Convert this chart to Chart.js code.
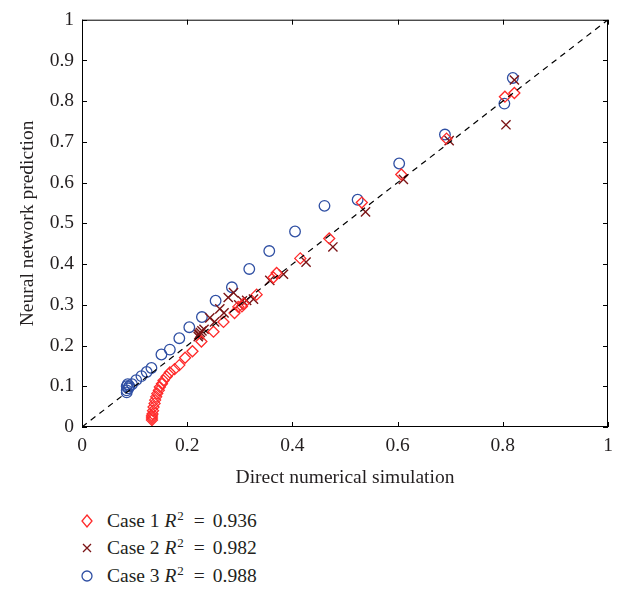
<!DOCTYPE html>
<html>
<head>
<meta charset="utf-8">
<script src="https://cdn.jsdelivr.net/npm/chart.js@4/dist/chart.umd.min.js"></script>
<style>
  html, body { margin: 0; padding: 0; background: #fff; }
  #wrap { position: relative; width: 630px; height: 591px; }
  #c { position: absolute; left: 0; top: 0; }
  #legend { position: absolute; left: 78px; top: 507px; font-family: "Liberation Serif", "DejaVu Serif", serif; font-size: 19.5px; color: #231f20; }
  .row { height: 27.5px; display: flex; align-items: center; }
  .row svg { width: 18px; height: 18px; margin-right: 11px; }
  sup { font-size: 13px; vertical-align: 7px; line-height: 0; margin-left: 1px; }
  .eq { margin: 0 8px 0 10px; }
</style>
</head>
<body>
<div id="wrap">
  <canvas id="c" width="630" height="500"></canvas>
  <div id="legend">
    <div class="row"><svg viewBox="0 0 18 18"><path d="M9 3 L14 9 L9 15 L4 9 Z" fill="none" stroke="#ff2a2a" stroke-width="1.3"/></svg><span>Case 1 <i>R</i><sup>2</sup><span class="eq">=</span>0.936</span></div>
    <div class="row"><svg viewBox="0 0 18 18"><path d="M5 5 L13 13 M13 5 L5 13" stroke="#7b1416" stroke-width="1.3"/></svg><span>Case 2 <i>R</i><sup>2</sup><span class="eq">=</span>0.982</span></div>
    <div class="row"><svg viewBox="0 0 18 18"><circle cx="9" cy="9" r="5" fill="none" stroke="#2f4fa3" stroke-width="1.3"/></svg><span>Case 3 <i>R</i><sup>2</sup><span class="eq">=</span>0.988</span></div>
  </div>
</div>
<script>
// ---- data ----
const xTickValues = [0, 0.2, 0.4, 0.6, 0.8, 1];
const xTickLabels = ["0", "0.2", "0.4", "0.6", "0.8", "1"];
const yTickValues = [0, 0.1, 0.2, 0.3, 0.4, 0.5, 0.6, 0.7, 0.8, 0.9, 1];
const yTickLabels = ["0", "0.1", "0.2", "0.3", "0.4", "0.5", "0.6", "0.7", "0.8", "0.9", "1"];
const xAxisTitle = "Direct numerical simulation";
const yAxisTitle = "Neural network prediction";

const case1X = [0.133,0.133,0.133,0.134,0.135,0.136,0.138,0.139,0.141,0.143,0.146,0.148,0.152,0.155,0.161,0.167,0.176,0.185,0.196,0.21,0.227,0.25,0.269,0.29,0.297,0.304,0.307,0.332,0.364,0.37,0.415,0.47,0.532,0.607,0.693,0.804,0.822];
const case1Y = [0.017,0.022,0.027,0.032,0.04,0.049,0.058,0.066,0.074,0.082,0.09,0.098,0.106,0.114,0.124,0.134,0.142,0.152,0.17,0.186,0.21,0.234,0.258,0.28,0.295,0.296,0.303,0.325,0.367,0.378,0.414,0.463,0.551,0.62,0.708,0.811,0.82];

const case2X = [0.221,0.222,0.223,0.225,0.228,0.232,0.243,0.252,0.262,0.27,0.278,0.288,0.298,0.305,0.313,0.326,0.357,0.383,0.426,0.477,0.539,0.611,0.698,0.806,0.822];
const case2Y = [0.222,0.226,0.228,0.232,0.236,0.24,0.268,0.258,0.29,0.28,0.318,0.33,0.3,0.31,0.311,0.314,0.36,0.375,0.405,0.442,0.528,0.608,0.703,0.742,0.852];

const case3X = [0.085,0.085,0.088,0.085,0.087,0.09,0.095,0.103,0.113,0.123,0.132,0.151,0.167,0.185,0.204,0.228,0.254,0.285,0.318,0.356,0.405,0.461,0.524,0.603,0.69,0.803,0.819];
const case3Y = [0.085,0.09,0.095,0.1,0.105,0.1,0.105,0.115,0.125,0.135,0.145,0.178,0.19,0.218,0.245,0.27,0.31,0.343,0.388,0.432,0.48,0.543,0.558,0.647,0.718,0.794,0.857];

const refLineX = [0, 1];
const refLineY = [0, 1];

const zip = (xs, ys) => xs.map((x, i) => ({ x: x, y: ys[i] }));

const serif = "'Liberation Serif', 'DejaVu Serif', serif";
const textColor = "#231f20";
const fontSize = 19.5;

const boxPlugin = {
  id: 'box',
  afterDraw(chart) {
    const { ctx, chartArea: a, scales } = chart;
    ctx.save();
    ctx.strokeStyle = '#000';
    ctx.lineWidth = 1;
    ctx.strokeRect(a.left + 0.5, a.top + 0.5, a.right - a.left - 1, a.bottom - a.top - 1);
    ctx.beginPath();
    const tl = 5;
    xTickValues.forEach(v => {
      const px = Math.round(scales.x.getPixelForValue(v)) + 0.5;
      ctx.moveTo(px, a.bottom); ctx.lineTo(px, a.bottom - tl);
      ctx.moveTo(px, a.top); ctx.lineTo(px, a.top + tl);
    });
    yTickValues.forEach(v => {
      const py = Math.round(scales.y.getPixelForValue(v)) + 0.5;
      ctx.moveTo(a.left, py); ctx.lineTo(a.left + tl, py);
      ctx.moveTo(a.right, py); ctx.lineTo(a.right - tl, py);
    });
    ctx.stroke();
    ctx.restore();
  }
};

new Chart(document.getElementById('c'), {
  type: 'scatter',
  data: {
    datasets: [
      { label: 'ref', type: 'line', data: zip(refLineX, refLineY), borderColor: '#000', borderWidth: 1.2, borderDash: [6, 5], pointRadius: 0, fill: false },
      { label: 'Case 1', data: zip(case1X, case1Y), pointStyle: 'rectRot', pointRadius: 5.5, borderColor: '#ff2a2a', backgroundColor: 'rgba(0,0,0,0)', borderWidth: 1.3 },
      { label: 'Case 2', data: zip(case2X, case2Y), pointStyle: 'crossRot', pointRadius: 6.5, borderColor: '#7b1416', backgroundColor: 'rgba(0,0,0,0)', borderWidth: 1.4 },
      { label: 'Case 3', data: zip(case3X, case3Y), pointStyle: 'circle', pointRadius: 5.3, borderColor: '#2f4fa3', backgroundColor: 'rgba(0,0,0,0)', borderWidth: 1.3 }
    ]
  },
  options: {
    responsive: false,
    animation: false,
    events: [],
    layout: { padding: { top: 13, right: 22, left: 0, bottom: 0 } },
    plugins: { legend: { display: false }, tooltip: { enabled: false } },
    scales: {
      x: {
        type: 'linear', min: 0, max: 1,
        afterBuildTicks: s => { s.ticks = xTickValues.map(v => ({ value: v })); },
        afterFit: s => { s.height = 73; },
        grid: { display: false, drawTicks: false },
        border: { display: false },
        ticks: { color: textColor, font: { family: serif, size: fontSize }, padding: 7, maxRotation: 0,
                 callback: (v, i) => xTickLabels[i] },
        title: { display: true, text: xAxisTitle, color: textColor, font: { family: serif, size: fontSize }, padding: { top: 0, bottom: 10 } }
      },
      y: {
        type: 'linear', min: 0, max: 1,
        afterBuildTicks: s => { s.ticks = yTickValues.map(v => ({ value: v })); },
        afterFit: s => { s.width = 82; },
        grid: { display: false, drawTicks: false },
        border: { display: false },
        ticks: { color: textColor, font: { family: serif, size: fontSize }, padding: 8,
                 callback: (v, i) => yTickLabels[i] },
        title: { display: true, text: yAxisTitle, color: textColor, font: { family: serif, size: fontSize }, padding: { top: 16, bottom: 0 } }
      }
    }
  },
  plugins: [boxPlugin]
});
</script>
</body>
</html>
